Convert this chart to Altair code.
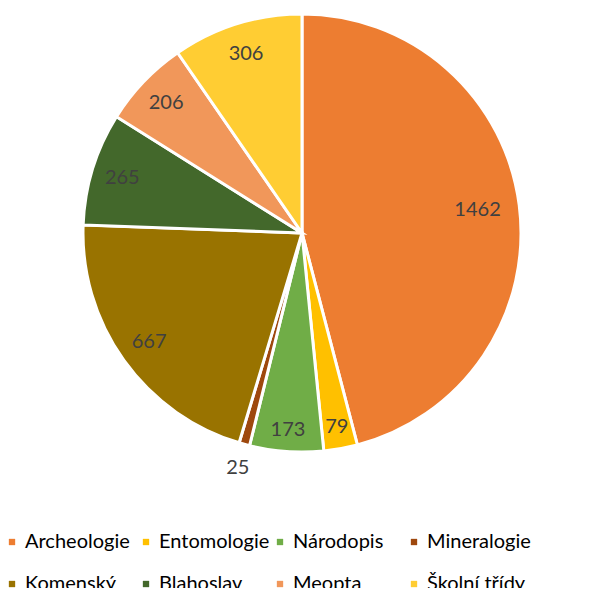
import altair as alt
import pandas as pd

categories = ["Archeologie", "Entomologie", "Národopis", "Mineralogie",
              "Komenský", "Blahoslav", "Meopta", "Školní třídy"]
values = [1462, 79, 173, 25, 667, 265, 206, 306]
colors = ["#ED7D31", "#FFC000", "#70AD47", "#9E480E",
          "#997300", "#43682B", "#F1975A", "#FFCD33"]

df = pd.DataFrame({"cat": categories, "value": values, "idx": list(range(len(values)))})

FONT = "Lato"
cx, cy = 294, 225

base = alt.Chart(df).encode(
    theta=alt.Theta("value:Q", stack=True),
    order=alt.Order("idx:Q"),
    x=alt.value(cx),
    y=alt.value(cy),
)

arcs = base.mark_arc(outerRadius=219, stroke="white", strokeWidth=3).encode(
    color=alt.Color(
        "cat:N",
        scale=alt.Scale(domain=categories, range=colors),
        sort=categories,
        legend=alt.Legend(
            title=None,
            orient="none",
            legendX=-6,
            legendY=524,
            padding=0,
            direction="horizontal",
            columns=4,
            gridAlign="all",
            symbolType="square",
            symbolSize=40,
            symbolStrokeWidth=0,
            labelFont=FONT,
            labelFontSize=20,
            labelColor="#000000",
            labelOffset=3,
            columnPadding=-17,
            rowPadding=22,
            labelLimit=300,
        ),
    )
)


def label_layer(cond, r):
    return base.mark_text(font=FONT, fontSize=20, color="#404040", radius=r).encode(
        text=alt.condition(cond, alt.Text("value:Q"), alt.value("")),
    )


layers = [
    label_layer("datum.value >= 1000", 177),
    label_layer("datum.value >= 200 && datum.value < 1000", 188),
    label_layer("datum.value >= 50 && datum.value < 200", 197),
    label_layer("datum.value < 50", 244),
]

chart = alt.layer(arcs, *layers).properties(
    width=582, height=580, padding=0, autosize=alt.AutoSizeParams(type="none")
).configure_view(stroke=None)

chart.save("out.html", embed_options={"renderer": "svg", "actions": False})
